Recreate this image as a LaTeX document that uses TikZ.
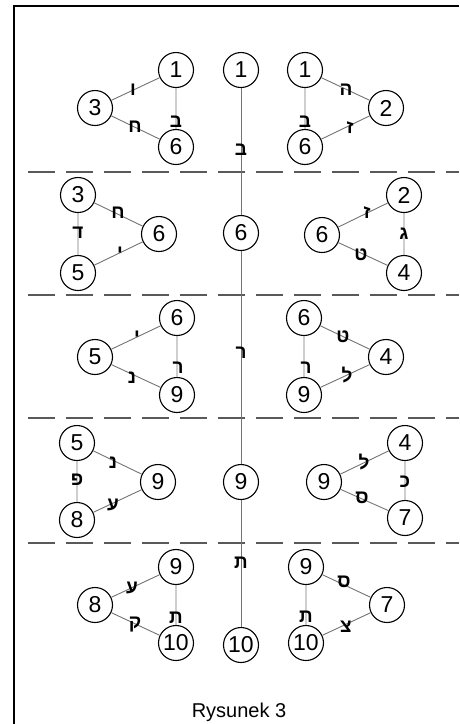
\documentclass[tikz,border=0pt]{standalone}
\usepackage{fontspec}
\setmainfont{Liberation Sans}
\newfontfamily\hebfont[Script=Hebrew]{Liberation Sans}
\TeXXeTstate=1
\newcommand{\hb}[1]{\hebfont\bfseries\beginR #1\endR}
\begin{document}
\begin{tikzpicture}[x=1pt,y=-1pt,
  sef/.style={circle,draw=black,line width=1.1pt,fill=white,minimum size=35pt,inner sep=0pt,font=\fontsize{23}{23}\selectfont},
  conn/.style={draw=black!55,line width=0.9pt},
  lbl/.style={inner sep=0pt,font=\fontsize{19}{19}\selectfont},
  sep/.style={draw=black!65,line width=1.8pt,dash pattern=on 27pt off 11pt},
  frame/.style={draw=black,line width=1.3pt}]
\useasboundingbox (0,0) rectangle (459,724);
\draw[frame] (14,724) -- (14,6) -- (459,6);
% separators
\foreach \yy in {172,295,418,543} \draw[sep] (28,\yy) -- (459,\yy);
% centre column
\node[sef] (c1) at (241,70) {1};
\node[sef] (c6) at (241,233) {6};
\node[sef] (c9) at (241,482) {9};
\node[sef] (c10) at (241,645) {10};
\draw[conn] (c1) -- (c6) -- (c9) -- (c10);
\node[lbl] (cl1) at (241,150) {\hb{ב}};
\node[lbl] (cl2) at (241,353) {\hb{ר}};
\node[lbl] (cl3) at (241,563) {\hb{ת}};
% row 1 left
\node[sef] (a1) at (176,70) {1};
\node[sef] (a3) at (95,108) {3};
\node[sef] (a6) at (176,147) {6};
\draw[conn] (a3) -- (a1) -- (a6) -- (a3);
\node[lbl] at (133,90) {\hb{ו}};
\node[lbl] at (135,127) {\hb{ח}};
\node[lbl] at (176,122) {\hb{ב}};
% row 1 right
\node[sef] (b1) at (305,70) {1};
\node[sef] (b2) at (386,108) {2};
\node[sef] (b6) at (305,147) {6};
\draw[conn] (b2) -- (b1) -- (b6) -- (b2);
\node[lbl] at (346,90) {\hb{ה}};
\node[lbl] at (350,128) {\hb{ז}};
\node[lbl] at (305,122) {\hb{ב}};
% row 2 left
\node[sef] (d3) at (78,195) {3};
\node[sef] (d6) at (159,234) {6};
\node[sef] (d5) at (78,273) {5};
\draw[conn] (d3) -- (d6) -- (d5) -- (d3);
\node[lbl] at (118,213) {\hb{ח}};
\node[lbl] at (78,233) {\hb{ד}};
\node[lbl] at (120,253) {\hb{י}};
% row 2 right
\node[sef] (e2) at (404,195) {2};
\node[sef] (e6) at (322,235) {6};
\node[sef] (e4) at (404,273) {4};
\draw[conn] (e2) -- (e6) -- (e4) -- (e2);
\node[lbl] at (367,213) {\hb{ז}};
\node[lbl] at (404,234) {\hb{ג}};
\node[lbl] at (361,255) {\hb{ט}};
% row 3 left
\node[sef] (f6) at (177,318) {6};
\node[sef] (f5) at (95,357) {5};
\node[sef] (f9) at (177,395) {9};
\draw[conn] (f5) -- (f6) -- (f9) -- (f5);
\node[lbl] at (137,337) {\hb{י}};
\node[lbl] at (178,368) {\hb{ר}};
\node[lbl] at (132,378) {\hb{נ}};
% row 3 right
\node[sef] (g6) at (304,318) {6};
\node[sef] (g4) at (386,357) {4};
\node[sef] (g9) at (304,395) {9};
\draw[conn] (g4) -- (g6) -- (g9) -- (g4);
\node[lbl] at (343,337) {\hb{ט}};
\node[lbl] at (306,368) {\hb{ר}};
\node[lbl] at (347,375) {\hb{ל}};
% row 4 left
\node[sef] (h5) at (77,443) {5};
\node[sef] (h9) at (158,482) {9};
\node[sef] (h8) at (77,520) {8};
\draw[conn] (h5) -- (h9) -- (h8) -- (h5);
\node[lbl] at (113,463) {\hb{נ}};
\node[lbl] at (77,480) {\hb{פ}};
\node[lbl] at (113,505) {\hb{ע}};
% row 4 right
\node[sef] (k4) at (405,443) {4};
\node[sef] (k9) at (324,482) {9};
\node[sef] (k7) at (405,518) {7};
\draw[conn] (k4) -- (k9) -- (k7) -- (k4);
\node[lbl] at (364,462) {\hb{ל}};
\node[lbl] at (405,482) {\hb{כ}};
\node[lbl] at (362,498) {\hb{ס}};
% row 5 left
\node[sef] (m9) at (176,567) {9};
\node[sef] (m8) at (95,605) {8};
\node[sef] (m10) at (176,643) {10};
\draw[conn] (m8) -- (m9) -- (m10) -- (m8);
\node[lbl] at (132,588) {\hb{ע}};
\node[lbl] at (176,618) {\hb{ת}};
\node[lbl] at (135,625) {\hb{ק}};
% row 5 right
\node[sef] (n9) at (306,567) {9};
\node[sef] (n7) at (387,605) {7};
\node[sef] (n10) at (306,643) {10};
\draw[conn] (n7) -- (n9) -- (n10) -- (n7);
\node[lbl] at (344,582) {\hb{ס}};
\node[lbl] at (306,617) {\hb{ת}};
\node[lbl] at (346,627) {\hb{צ}};
% caption
\node[font=\fontsize{20}{20}\selectfont] (cap) at (239,712) {Rysunek 3};
\end{tikzpicture}
\end{document}
